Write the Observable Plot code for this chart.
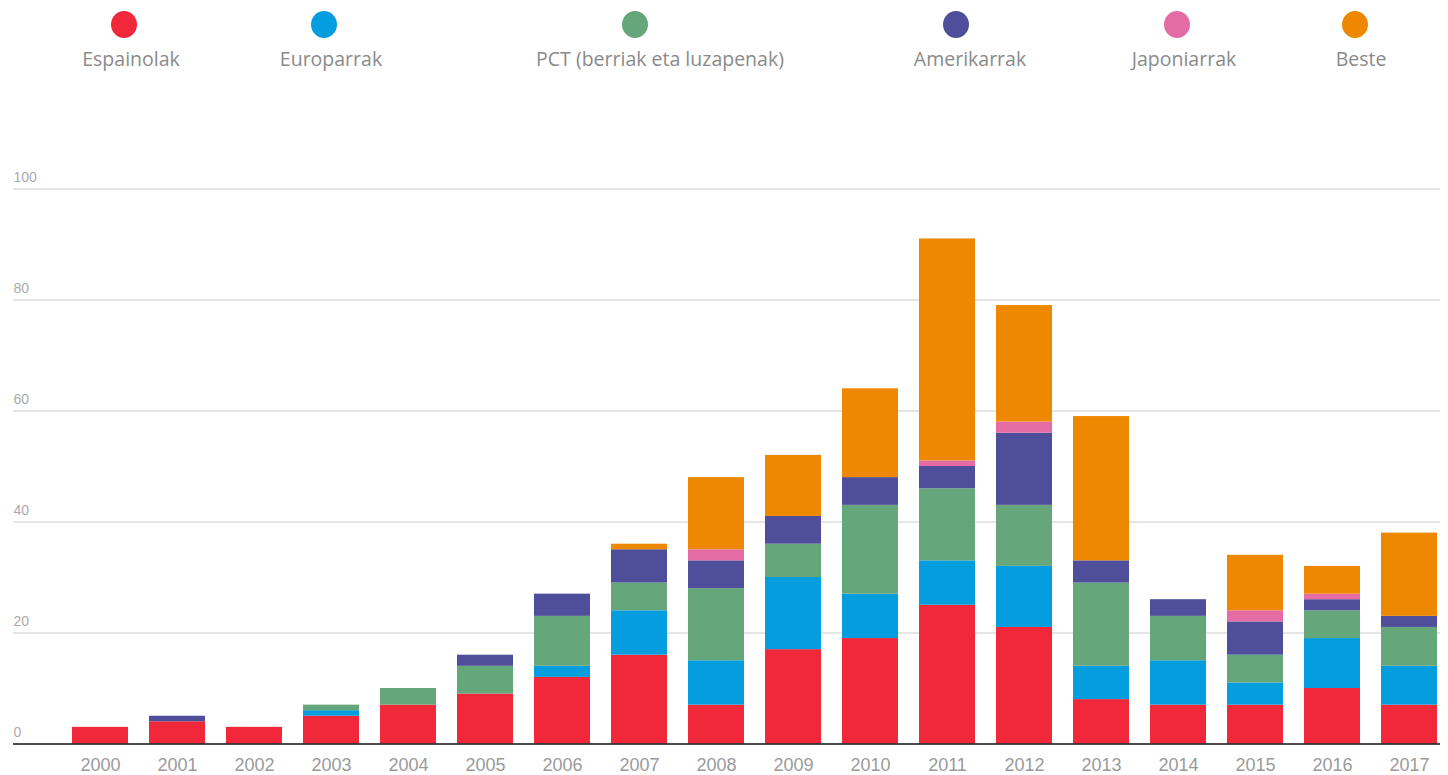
<!DOCTYPE html>
<html>
<head>
<meta charset="utf-8">
<script src="https://cdn.jsdelivr.net/npm/d3@7"></script>
<script src="https://cdn.jsdelivr.net/npm/@observablehq/plot@0.6"></script>
<style>
  html, body { margin: 0; padding: 0; background: #fff; }
  #wrap { position: relative; width: 1448px; height: 775px; overflow: hidden; }
  #legend { position: relative; width: 1448px; height: 90px; font-family: "Open Sans", "Lato", sans-serif; }
  .dot { position: absolute; width: 26px; height: 27px; border-radius: 50%; top: 11px; }
  .lab { position: absolute; top: 46px; font-size: 19.5px; color: #8a8a8a; white-space: nowrap; transform: translateX(-50%); line-height: 26px; }
  #chart svg { display: block; }
</style>
</head>
<body>
<div id="wrap">
  <div id="legend"></div>
  <div id="chart"></div>
</div>
<script>
// ---- data ----
const years = ["2000","2001","2002","2003","2004","2005","2006","2007","2008","2009","2010","2011","2012","2013","2014","2015","2016","2017"];
const seriesNames = ["Espainolak","Europarrak","PCT (berriak eta luzapenak)","Amerikarrak","Japoniarrak","Beste"];
const espainolak  = [3,4,3,5,7,9,12,16,7,17,19,25,21,8,7,7,10,7];
const europarrak  = [0,0,0,1,0,0,2,8,8,13,8,8,11,6,8,4,9,7];
const pct         = [0,0,0,1,3,5,9,5,13,6,16,13,11,15,8,5,5,7];
const amerikarrak = [0,1,0,0,0,2,4,6,5,5,5,4,13,4,3,6,2,2];
const japoniarrak = [0,0,0,0,0,0,0,0,2,0,0,1,2,0,0,2,1,0];
const beste       = [0,0,0,0,0,0,0,1,13,11,16,40,21,26,0,10,5,15];
const yTicks = [0,20,40,60,80,100];

// ---- styles / layout ----
const colors = ["#f0283a","#049ddd","#65a77a","#4e4e9a","#e46ba3","#ee8800"];
const legendDotX = [124,324,635,956,1177,1355];
const legendLabelX = [131,331,660,970,1184,1361];

const seriesValues = [espainolak, europarrak, pct, amerikarrak, japoniarrak, beste];
const data = [];
seriesNames.forEach((name, si) => {
  years.forEach((yr, i) => data.push({year: yr, series: name, value: seriesValues[si][i]}));
});

// legend
const legend = document.getElementById("legend");
seriesNames.forEach((name, i) => {
  const d = document.createElement("div");
  d.className = "dot";
  d.style.left = (legendDotX[i] - 13) + "px";
  d.style.background = colors[i];
  legend.appendChild(d);
  const l = document.createElement("div");
  l.className = "lab";
  l.style.left = legendLabelX[i] + "px";
  l.textContent = name;
  legend.appendChild(l);
});

const chart = Plot.plot({
  width: 1448,
  height: 685,
  marginTop: 98.5,
  marginBottom: 31.5,
  marginLeft: 13,
  marginRight: 8,
  style: {fontFamily: "'Liberation Sans', Arial, sans-serif", background: "#fff"},
  x: {domain: years, range: [71, 1437.3], paddingInner: 0.273, paddingOuter: 0, axis: null},
  y: {domain: [0, 100], axis: null},
  color: {domain: seriesNames, range: colors},
  marks: [
    Plot.ruleY(yTicks.filter(d => d > 0), {stroke: "#dcdcdc", strokeWidth: 1.5}),
    Plot.text(yTicks, {y: d => d, frameAnchor: "left", text: d => String(d), textAnchor: "start", dy: -11, fill: "#aaaaaa", fontSize: 14}),
    Plot.barY(data, Plot.stackY({x: "year", y: "value", z: "series", fill: "series", order: seriesNames})),
    Plot.ruleY([0], {stroke: "#111", strokeWidth: 1.5}),
    Plot.axisX({domain: years, label: null, tickSize: 0, tickPadding: 0, dy: 14, fontSize: 18, fill: "#9a9a9a"})
  ]
});
document.getElementById("chart").appendChild(chart);
</script>
</body>
</html>
